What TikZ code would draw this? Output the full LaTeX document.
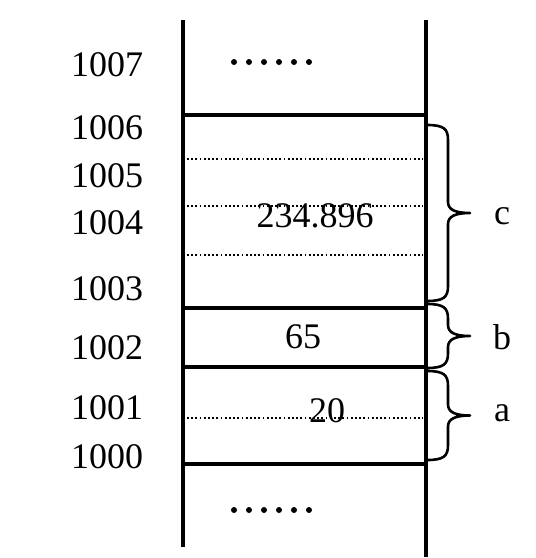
\documentclass[tikz,border=0pt]{standalone}
\usepackage{fontspec}
\setmainfont{Liberation Serif}
\begin{document}
\begin{tikzpicture}[x=1pt,y=-1pt,
  lbl/.style={anchor=base,inner sep=0pt,font=\fontsize{36}{40}\selectfont},
  solidline/.style={line width=3.2pt},
  dotline/.style={line width=1.8pt,dash pattern=on 1.8pt off 2.4pt},
  bracestroke/.style={line width=2.6pt,line join=round}]
\useasboundingbox (0,0) rectangle (536,558);
% walls
\coordinate (LT) at (183,20); \coordinate (LB) at (183,547);
\coordinate (RT) at (426,20); \coordinate (RB) at (426,557);
\draw[solidline] (LT) -- (LB);
\draw[solidline] (RT) -- (RB);
% solid separators
\foreach \n/\y in {s6/115,s3/308,s2/367,s0/464}{
  \coordinate (\n L) at (183,\y); \coordinate (\n R) at (426,\y);
  \draw[solidline] (\n L) -- (\n R);
}
% dotted separators
\foreach \n/\y in {d5/159,d4/206,d3/255,d1/418}{
  \coordinate (\n L) at (187,\y); \coordinate (\n R) at (423,\y);
  \draw[dotline] (\n L) -- (\n R);
}
% ellipsis dots
\foreach \i in {0,...,5}{
  \fill (234+15*\i,62) circle (3);
  \fill (234+15*\i,510) circle (3);
}
% address labels
\node[lbl] (a1007) at (107,76) {1007};
\node[lbl] (a1006) at (107,139) {1006};
\node[lbl] (a1005) at (107,187) {1005};
\node[lbl] (a1004) at (107,234) {1004};
\node[lbl] (a1003) at (107,300) {1003};
\node[lbl] (a1002) at (107,359) {1002};
\node[lbl] (a1001) at (107,419) {1001};
\node[lbl] (a1000) at (107,468) {1000};
% values
\node[lbl] (vc) at (315,227) {234.896};
\node[lbl] (vb) at (303,348) {65};
\node[lbl] (va) at (327,422) {20};
% braces
\foreach \n/\ya/\yb in {c/125/301,b/304/368,a/371/460}{
  \pgfmathsetmacro{\ym}{(\ya+\yb)/2}
  \draw[bracestroke] (427,\ya) .. controls (444,\ya) and (448,\ya+4) .. (448,\ya+15)
    -- (448,\ym-11) .. controls (448,\ym-3) and (456,\ym) .. (470,\ym)
    .. controls (456,\ym) and (448,\ym+3) .. (448,\ym+11)
    -- (448,\yb-15) .. controls (448,\yb-4) and (444,\yb) .. (427,\yb);
  \coordinate (tip\n) at (470,\ym);
}
\node[lbl,anchor=base] (lc) at (502,224) {c};
\node[lbl,anchor=base] (lb) at (502,349) {b};
\node[lbl,anchor=base] (la) at (502,421) {a};
\end{tikzpicture}
\end{document}
